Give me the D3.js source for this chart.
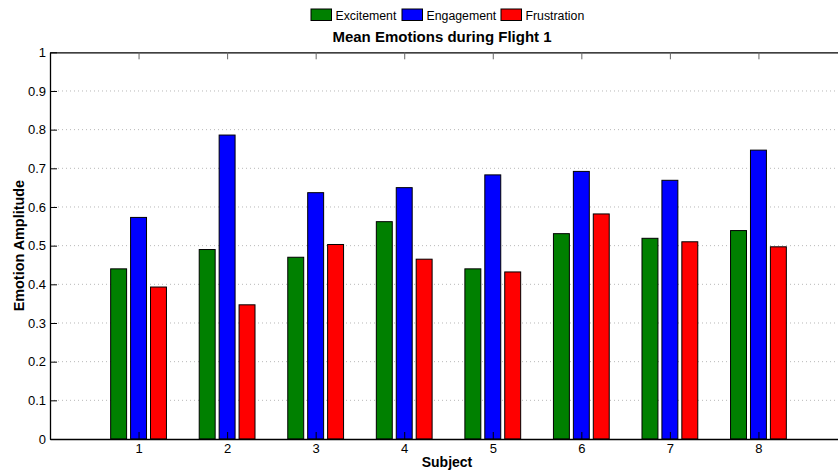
<!DOCTYPE html>
<html>
<head>
<meta charset="utf-8">
<script src="https://cdn.jsdelivr.net/npm/d3@7"></script>
<style>
  html, body { margin: 0; padding: 0; background: #fff; }
  svg { display: block; font-family: "Liberation Sans", Arial, Helvetica, sans-serif; }
</style>
</head>
<body>
<svg id="chart" width="838" height="476"></svg>
<script>
// Mean emotion amplitudes per subject during Flight 1
const subjects = [1, 2, 3, 4, 5, 6, 7, 8];
const seriesNames = ["Excitement", "Engagement", "Frustration"];
const seriesColors = ["#008000", "#0000ff", "#ff0000"];
const excitement  = [0.440, 0.490, 0.470, 0.562, 0.440, 0.531, 0.519, 0.539];
const engagement  = [0.573, 0.786, 0.637, 0.650, 0.683, 0.692, 0.669, 0.747];
const frustration = [0.393, 0.347, 0.503, 0.465, 0.432, 0.582, 0.510, 0.497];
const yTicks = [0, 0.1, 0.2, 0.3, 0.4, 0.5, 0.6, 0.7, 0.8, 0.9, 1];
const yTickLabels = ["0", "0.1", "0.2", "0.3", "0.4", "0.5", "0.6", "0.7", "0.8", "0.9", "1"];

const series = [excitement, engagement, frustration];

const svg = d3.select("#chart");
const plotLeft = 50, plotTop = 52.3, plotBottom = 439, plotRight = 847;

const x = d3.scaleLinear().domain([0, 9]).range([plotLeft, plotRight]);
const y = d3.scaleLinear().domain([0, 1]).range([plotBottom, plotTop]);

const barW = 0.18;      // bar width in subject units
const barStep = 0.225;  // distance between bars within a group

// dotted grid lines
svg.append("g")
  .selectAll("line")
  .data(yTicks.filter(d => d > 0 && d < 1))
  .join("line")
  .attr("x1", plotLeft).attr("x2", 838)
  .attr("y1", d => y(d)).attr("y2", d => y(d))
  .attr("stroke", "#b8b8b8")
  .attr("stroke-width", 1)
  .attr("stroke-dasharray", "1,3");

// bars
const bars = [];
subjects.forEach((s, i) => {
  series.forEach((vals, k) => {
    bars.push({ s, k, v: vals[i] });
  });
});
svg.append("g")
  .selectAll("rect")
  .data(bars)
  .join("rect")
  .attr("x", d => x(d.s + (d.k - 1) * barStep - barW / 2))
  .attr("width", d => x(barW) - x(0))
  .attr("y", d => y(d.v))
  .attr("height", d => y(0) - y(d.v))
  .attr("fill", d => seriesColors[d.k])
  .attr("stroke", "#000")
  .attr("stroke-width", 1);

// axes
const yAxis = d3.axisLeft(y)
  .tickValues(yTicks)
  .tickFormat((d, i) => yTickLabels[i])
  .tickSizeInner(-7)
  .tickSizeOuter(0)
  .tickPadding(4);
const gy = svg.append("g").attr("transform", `translate(${plotLeft},0)`).call(yAxis);

const xAxis = d3.axisBottom(x)
  .tickValues(subjects)
  .tickFormat(d3.format("d"))
  .tickSizeInner(-7)
  .tickSizeOuter(0)
  .tickPadding(5);
const gx = svg.append("g").attr("transform", `translate(0,${plotBottom})`).call(xAxis);

const xTop = d3.axisTop(x)
  .tickValues(subjects)
  .tickFormat("")
  .tickSizeInner(-7)
  .tickSizeOuter(0);
const gt = svg.append("g").attr("transform", `translate(0,${plotTop})`).call(xTop);

[gy, gx, gt].forEach(g => {
  g.attr("font-size", null).attr("font-family", null);
  g.select(".domain").attr("stroke", "#000").attr("stroke-width", 1.3);
  g.selectAll(".tick line").attr("stroke", "#000").attr("stroke-width", 1);
  g.selectAll(".tick text")
    .attr("fill", "#000")
    .style("font-size", "13px");
});
gt.selectAll(".tick line").attr("stroke", "#666");

// title
svg.append("text")
  .attr("x", 442).attr("y", 42)
  .attr("text-anchor", "middle")
  .style("font-size", "15px").style("font-weight", "bold")
  .text("Mean Emotions during Flight 1");

// axis labels
svg.append("text")
  .attr("x", 447).attr("y", 467)
  .attr("text-anchor", "middle")
  .style("font-size", "14px").style("font-weight", "bold")
  .text("Subject");
svg.append("text")
  .attr("transform", `translate(24,${(plotTop + plotBottom) / 2}) rotate(-90)`)
  .attr("text-anchor", "middle")
  .style("font-size", "14.4px").style("font-weight", "bold")
  .text("Emotion Amplitude");

// legend
const legendX = [311, 402, 501];
const leg = svg.append("g")
  .selectAll("g")
  .data(seriesNames)
  .join("g")
  .attr("transform", (d, i) => `translate(${legendX[i]},9)`);
leg.append("rect")
  .attr("width", 20.5).attr("height", 11.5)
  .attr("fill", (d, i) => seriesColors[i])
  .attr("stroke", "#000").attr("stroke-width", 1);
leg.append("text")
  .attr("x", 24.5).attr("y", 10.5)
  .style("font-size", "12.3px")
  .text(d => d);
</script>
</body>
</html>
